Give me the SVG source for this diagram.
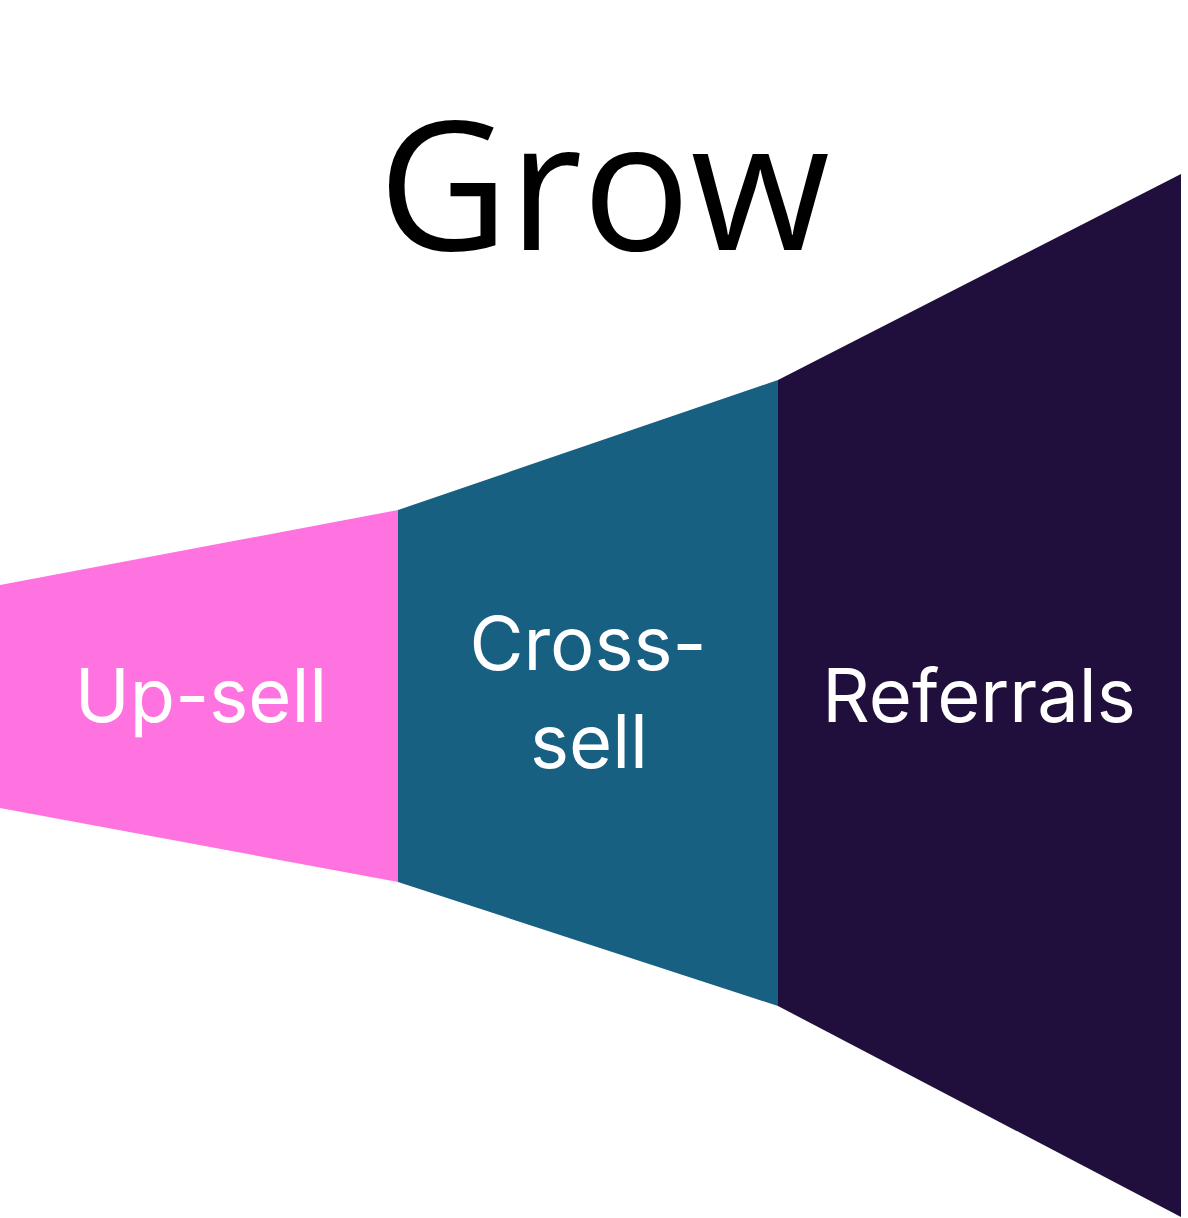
<svg xmlns="http://www.w3.org/2000/svg" width="1188" height="1218" viewBox="0 0 1188 1218">
<style>
.lbl{font-family:"Inter","Open Sans","Liberation Sans",sans-serif;font-size:74px;fill:#ffffff;text-anchor:middle}
.title{font-family:"Open Sans","Liberation Sans",sans-serif;font-size:180px;fill:#000000;text-anchor:middle}
</style>
<rect width="1188" height="1218" fill="#ffffff"/>
<text class="title" x="604" y="250">Grow</text>
<g id="upsell">
<polygon points="0,585 398,510 398,882 0,808" fill="#ff73e1"/>
<text class="lbl" x="201" y="722">Up-sell</text>
</g>
<g id="crosssell">
<polygon points="398,510 778,380 778,1006 398,882" fill="#176082"/>
<text class="lbl" x="588" y="670">Cross-</text>
<text class="lbl" x="589" y="768">sell</text>
</g>
<g id="referrals">
<polygon points="778,380 1181,174 1181,1217 778,1006" fill="#200f3c"/>
<text class="lbl" x="979" y="722">Referrals</text>
</g>
<g id="connectors"></g>
</svg>
